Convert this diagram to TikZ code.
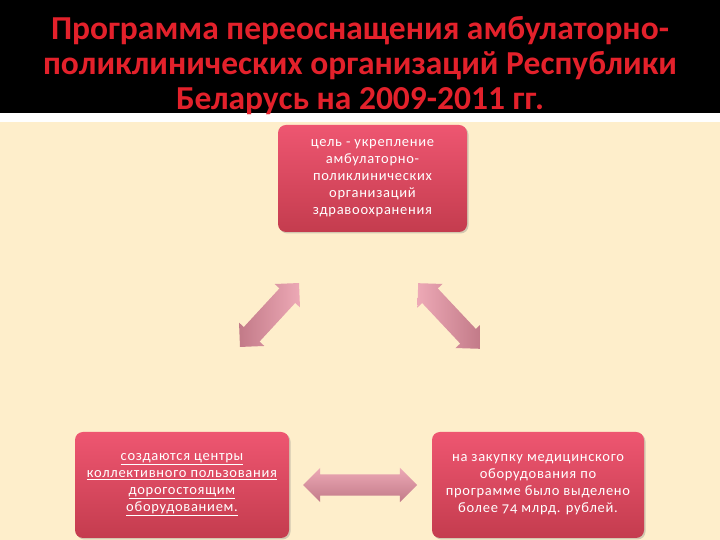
\documentclass[tikz,border=0pt]{standalone}
\usepackage{fontspec}
\setmainfont{Carlito}
\newfontfamily\boxfont[LetterSpace=5,Numbers=OldStyle]{Carlito}
\usetikzlibrary{shapes.arrows,shadows}
\definecolor{cream}{HTML}{FEEECB}
\definecolor{titlered}{HTML}{E3212B}
\definecolor{boxtop}{HTML}{EE5671}
\definecolor{boxbottom}{HTML}{C43C4E}
\definecolor{arrowlight}{HTML}{EDA9B6}
\definecolor{arrowdark}{HTML}{C27A88}
\begin{document}
\begin{tikzpicture}[x=1pt,y=1pt,
    goalbox/.style={rounded corners=8pt, top color=boxtop, bottom color=boxbottom,
        text=white, align=center, inner sep=0pt,
        font=\boxfont\fontsize{14.5}{17}\selectfont,
        drop shadow={shadow xshift=1.5pt, shadow yshift=-1.5pt, opacity=0.35}},
    fatarrow/.style={double arrow, inner xsep=0pt, inner ysep=10.5pt, minimum width=34pt,
        double arrow head extend=6.5pt, double arrow head indent=0pt}]
    % background
    \useasboundingbox (0,0) rectangle (720,540);
    \fill[cream] (0,0) rectangle (720,418);
    \fill[white] (0,418) rectangle (720,427);
    \fill[black] (0,427) rectangle (720,540);
    \node[text=titlered, align=center, font=\bfseries\fontsize{33.5}{35}\selectfont] (title) at (360,474)
        {Программа переоснащения амбулаторно-\\поликлинических организаций Республики\\Беларусь на 2009-2011 гг.};
    % boxes
    \node[goalbox, minimum width=189pt, minimum height=107pt] (goal) at (372.5,361.5)
        {цель - укрепление\\амбулаторно-\\поликлинических\\организаций\\здравоохранения};
    \node[goalbox, minimum width=214pt, minimum height=106pt] (centres) at (182,55)
        {\underline{создаются центры}\\\underline{коллективного пользования}\\\underline{дорогостоящим}\\\underline{оборудованием.}};
    \node[goalbox, minimum width=212pt, minimum height=106pt] (money) at (538,55)
        {на закупку медицинского\\оборудования по\\программе было выделено\\более 74 млрд. рублей.};
    % arrows
    \node[fatarrow, minimum height=87pt, rotate=47.3, left color=arrowdark, right color=arrowlight] (leftarr) at (269.5,225) {};
    \node[fatarrow, minimum height=90pt, rotate=-46.8, left color=arrowlight, right color=arrowdark] (rightarr) at (449,224) {};
    \node[fatarrow, minimum height=114pt, top color=arrowlight, bottom color=arrowdark] (botarr) at (360,55) {};
\end{tikzpicture}
\end{document}
